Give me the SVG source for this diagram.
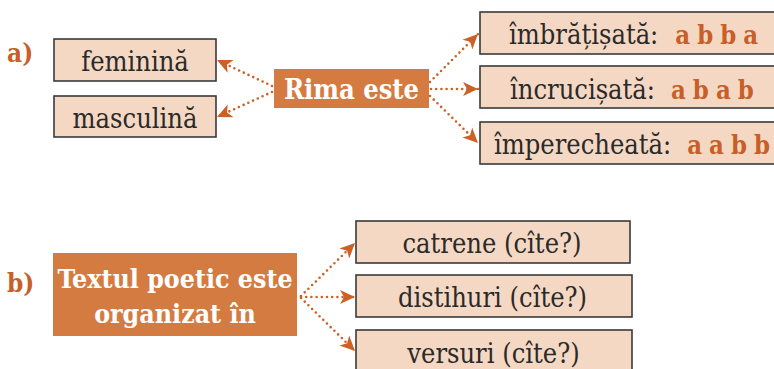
<svg xmlns="http://www.w3.org/2000/svg" width="774" height="369" viewBox="0 0 774 369">
<defs>
<marker id="ah" markerUnits="userSpaceOnUse" markerWidth="18" markerHeight="16" viewBox="-1 -8 18 16" refX="15" refY="0" orient="auto">
<path d="M0,-7 L15,0 L0,7 L4,0 z" fill="#cc6127"/>
</marker>
</defs>
<style>
.box{fill:#f5d8c3;stroke:#3a3a3a;stroke-width:1.6}
.obox{fill:#d47b42}
.t{font-family:"DejaVu Serif","Liberation Serif",serif;font-stretch:condensed;font-size:27px;fill:#2a2a2a;text-anchor:middle}
.s{text-anchor:start}
.w{font-family:"DejaVu Serif","Liberation Serif",serif;font-stretch:condensed;font-size:27px;font-weight:bold;fill:#ffffff;text-anchor:middle}
.o{font-weight:bold;fill:#c85f28;font-size:25.5px;word-spacing:-1px}
.lbl{font-family:"DejaVu Serif","Liberation Serif",serif;font-stretch:condensed;font-size:26px;font-weight:bold;fill:#c85f28}
.c{fill:none;stroke:#cc6127;stroke-width:2.6;stroke-linecap:round;stroke-dasharray:0 5.2;marker-end:url(#ah)}
</style>
<text class="lbl" x="7" y="62">a)</text>
<text class="lbl" x="7" y="292">b)</text>
<g id="connectors">
<path class="c" d="M272,86 L217,60"/>
<path class="c" d="M272,92 L217,117"/>
<path class="c" d="M430,82 L478,34"/>
<path class="c" d="M431,89 L478,89"/>
<path class="c" d="M430,96 L478,143"/>
<path class="c" d="M301,296 L355,243"/>
<path class="c" d="M301,297 L355,297"/>
<path class="c" d="M301,298 L355,351"/>
</g>
<g id="feminina"><rect class="box" x="54" y="39" width="162" height="42"/><text class="t" x="135" y="71">feminină</text></g>
<g id="masculina"><rect class="box" x="54" y="96" width="162" height="41"/><text class="t" x="135" y="128">masculină</text></g>
<g id="rima"><rect class="obox" x="274" y="69" width="155" height="39"/><text class="w" x="351.5" y="99">Rima este</text></g>
<g id="imbratisata"><rect class="box" x="480" y="12" width="300" height="42"/><text class="t s" x="509" y="44">îmbrățișată:<tspan class="o" dx="17">a b b a</tspan></text></g>
<g id="incrucisata"><rect class="box" x="480" y="66" width="300" height="42"/><text class="t s" x="510" y="99">încrucișată:<tspan class="o" dx="16">a b a b</tspan></text></g>
<g id="imperecheata"><rect class="box" x="480" y="122" width="300" height="42"/><text class="t s" x="494" y="154">împerecheată:<tspan class="o" dx="16">a a b b</tspan></text></g>
<g id="textul"><rect class="obox" x="53" y="253" width="244" height="83"/><text class="w" x="175" y="288" style="font-size:26.5px">Textul poetic este</text><text class="w" x="175" y="323" style="font-size:26.5px">organizat în</text></g>
<g id="catrene"><rect class="box" x="356" y="221" width="274" height="42"/><text class="t" x="492" y="253">catrene (cîte?)</text></g>
<g id="distihuri"><rect class="box" x="356" y="275" width="276" height="42"/><text class="t" x="492.5" y="307">distihuri (cîte?)</text></g>
<g id="versuri"><rect class="box" x="356" y="330" width="276" height="45"/><text class="t" x="493.5" y="363">versuri (cîte?)</text></g>
</svg>
